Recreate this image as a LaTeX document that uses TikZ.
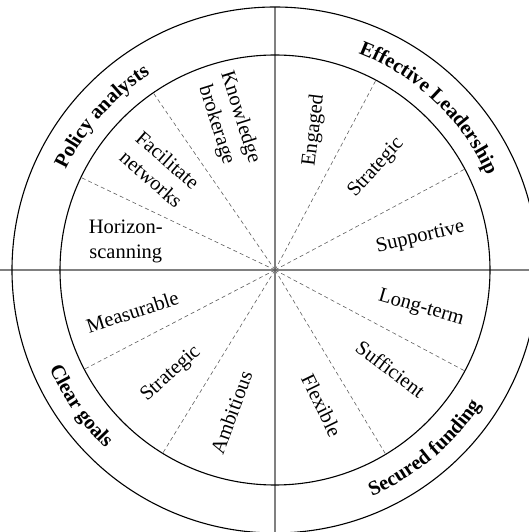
\documentclass[tikz,border=0pt]{standalone}
\usepackage{fontspec}
\setmainfont{Liberation Serif}
\usepackage{tikz}
\usetikzlibrary{decorations.text}

\newcommand{\ringfont}{\bfseries\fontsize{20.5}{25}\selectfont}

\begin{document}
\begin{tikzpicture}[x=1pt, y=1pt]
	\useasboundingbox (-275,-262) rectangle (253,270);
	\coordinate (O) at (0,0);
	\coordinate (W) at (-275,0);
	\coordinate (E) at (265,0);
	\coordinate (N) at (0,263);
	\coordinate (S) at (0,-265);
	\begin{scope}[every path/.style={draw=gray, line width=1.3pt}]
		\path (W) -- (E);
		\path (N) -- (S);
	\end{scope}
	\begin{scope}[every path/.style={draw=black, line width=1.1pt}]
		\path (O) circle (215);
		\path (O) circle (263);
	\end{scope}
	\foreach \a in {28,62,124.5,154.5,207.5,238.5,301,332}
		\draw[gray!75!black, line width=0.6pt, dash pattern=on 4pt off 3pt] (O) -- (\a:215);
	\begin{scope}[every node/.style = {inner sep=0pt, align=center,
			font=\fontsize{20.5}{25}\selectfont}]
		\node[rotate=-72.5] (know) at (107.5:156) {Knowledge\\brokerage};
		\node[rotate=-41] (netw) at (139:153) {Facilitate\\networks};
		\node (scan) at (169:152) {Horizon-\\scanning};
		\node[rotate=83] (enga) at (74.4:145) {Engaged};
		\node[rotate=48] (strup) at (45.3:144) {Strategic};
		\node[rotate=13] (supp) at (12.6:149) {Supportive};
		\node[rotate=-16] (long) at (-14.7:151) {Long-term};
		\node[rotate=-37] (suff) at (-40.5:152) {Sufficient};
		\node[rotate=-64] (flex) at (-71:143) {Flexible};
		\node[rotate=18] (meas) at (196.4:148.6) {Measurable};
		\node[rotate=42] (strlo) at (225:147) {Strategic};
		\node[rotate=70] (ambi) at (253:149) {Ambitious};
	\end{scope}
	% ring labels
	\path[decorate, decoration={text along path, text align=center,
		text={|\ringfont|Policy analysts}}]
		(178.5:232) arc[start angle=178.5, end angle=98.5, radius=232];
	\path[decorate, decoration={text along path, text align=center,
		text={|\ringfont|Effective Leadership}}]
		(86.5:232) arc[start angle=86.5, end angle=6.5, radius=232];
	\path[decorate, decoration={text along path, text align=center,
		text={|\ringfont|Clear goals}}]
		(175:246) arc[start angle=175, end angle=255, radius=246];
	\path[decorate, decoration={text along path, text align=center,
		text={|\ringfont|Secured funding}}]
		(-90:246) arc[start angle=-90, end angle=-10, radius=246];
\end{tikzpicture}
\end{document}
